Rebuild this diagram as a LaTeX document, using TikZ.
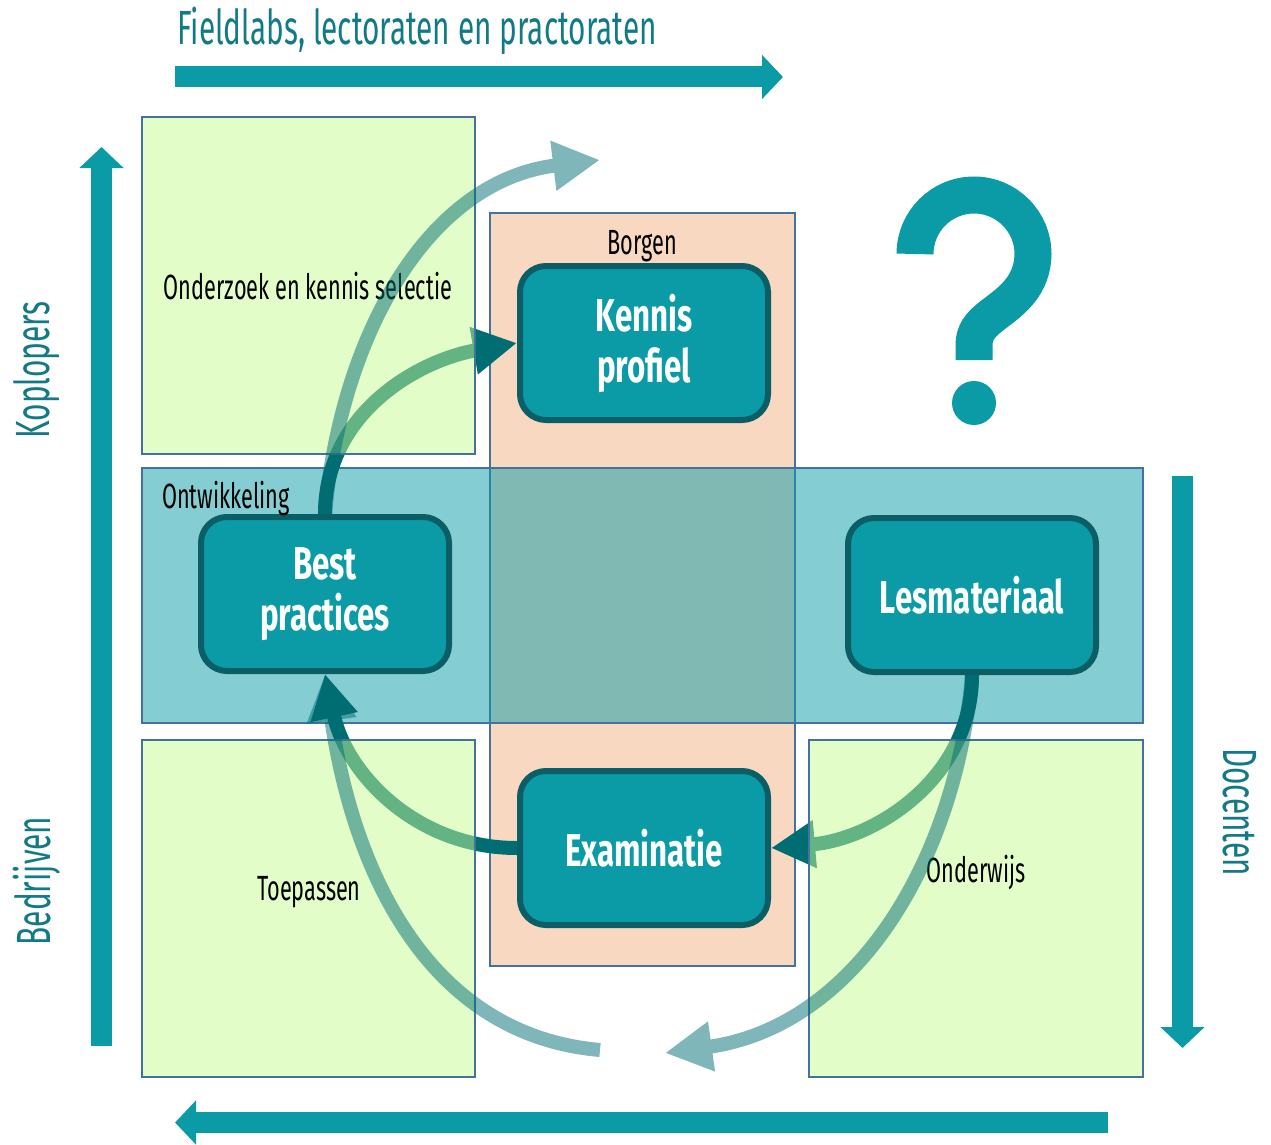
\documentclass[tikz,border=0pt]{standalone}
\usepackage{fontspec}
\setmainfont{Fira Sans}[FakeStretch=0.62]
\newfontfamily\blockfamily{Fira Sans}[FakeStretch=0.68]
\usetikzlibrary{arrows.meta}
\definecolor{cteal}{RGB}{10,155,167}
\definecolor{cflow}{RGB}{0,109,115}
\definecolor{cnodeline}{RGB}{12,94,102}
\definecolor{caxis}{RGB}{18,122,132}
\definecolor{cframe}{RGB}{68,114,160}
\definecolor{corange}{RGB}{248,216,192}
\definecolor{cgreen}{RGB}{200,252,148}
\newcommand{\axisfont}{\fontsize{48}{52}\selectfont}
\newcommand{\fieldfont}{\fontsize{35}{38}\selectfont}
\newcommand{\nodefont}{\blockfamily\fontsize{46}{51}\selectfont\bfseries}
\pgfdeclarelayer{back}
\pgfdeclarelayer{darkarrows}
\pgfdeclarelayer{boxes}
\pgfdeclarelayer{lightarrows}
\pgfsetlayers{back,darkarrows,boxes,lightarrows,main}

\begin{document}
\begin{tikzpicture}[x=1pt,y=-1pt
  ,>={Triangle[length=44pt,width=45pt]}
  ,line cap=butt]
  \tikzstyle{block}
  =[draw=cnodeline,line width=6pt,fill=cteal,rounded corners=26pt
  ,minimum width=248pt,minimum height=154pt
  ,text=white,align=center,font=\nodefont]
  \tikzstyle{field}=[draw=cframe,line width=2pt]
  \tikzstyle{darkflow}=[draw=cflow,line width=14pt,->]
  \tikzstyle{paleflow}=[draw=cflow,line width=14pt
  ,-{Triangle[length=47pt,width=47pt]}]
  \tikzstyle{axis}=[draw=cteal,line width=21pt
  ,-{Triangle[length=21pt,width=43pt]}]
  \tikzstyle{axislabel}=[text=caxis,font=\axisfont,inner sep=0pt]
  \tikzstyle{fieldlabel}=[font=\fieldfont,inner sep=0pt]

  \useasboundingbox (0,0) rectangle (1271,1145);

  % the four building blocks
  \node[block] (kp) at (644,343) {Kennis\\profiel};
  \node[block] (bp) at (325,594) {Best\\practices};
  \node[block] (lm) at (972,595) {Lesmateriaal};
  \node[block] (ex) at (644,848) {Examinatie};

  \coordinate (up)   at (600,160);
  \coordinate (down) at (665,1053);
  \coordinate (back) at (600,1050);

  \begin{pgfonlayer}{back}
    \draw[field,fill=corange] (490,213) rectangle (795,966);
    \draw[field,fill=cteal,fill opacity=.5] (142,468) rectangle (1143,723);
  \end{pgfonlayer}

  \begin{pgfonlayer}{darkarrows}
    \path
    (bp.north) edge[darkflow,out=90,in=190]  (kp.west)
    (lm.south) edge[darkflow,out=-90,in=5]   (ex.east)
    (ex.west)  edge[darkflow,out=180,in=-78] (bp.south)
    ;
  \end{pgfonlayer}

  \begin{pgfonlayer}{boxes}
    \draw[field,fill=cgreen,fill opacity=.5] (142,117) rectangle (475,454);
    \draw[field,fill=cgreen,fill opacity=.5] (142,740) rectangle (475,1077);
    \draw[field,fill=cgreen,fill opacity=.5] (809,740) rectangle (1143,1077);
    \node[fieldlabel,anchor=base] (ozk) at (308,299) {Onderzoek en kennis selectie};
    \node[fieldlabel,anchor=base] (tp)  at (309,900) {Toepassen};
    \node[fieldlabel,anchor=base] (ow)  at (976,882) {Onderwijs};
  \end{pgfonlayer}

  \begin{pgfonlayer}{lightarrows}
    \begin{scope}[transparency group,opacity=.5]
      \path
      (bp.north) edge[paleflow,out=85,in=187]  (up)
      (lm.south) edge[paleflow,out=-95,in=8]   (down)
      (back)     edge[paleflow,out=175,in=-82] (bp.south)
      ;
    \end{scope}
  \end{pgfonlayer}

  \node[fieldlabel,anchor=base] (bg) at (642,254) {Borgen};
  \node[fieldlabel,anchor=base west] (ow2) at (162,508) {Ontwikkeling};

  % axes round the field
  \draw[axis] (175,77) -- (783,77);
  \draw[axis] (101.5,1046) -- (101.5,147);
  \draw[axis] (1182.5,476) -- (1182.5,1048);
  \draw[axis] (1108,1122.5) -- (175,1122.5);

  \node[axislabel,anchor=base west] (fl) at (177,45)
  {Fieldlabs, lectoraten en practoraten};
  \node[axislabel,rotate=90]  (kl) at (37,370) {Koplopers};
  \node[axislabel,rotate=90]  (bd) at (37,881) {Bedrijven};
  \node[axislabel,rotate=-90] (dc) at (1240,812) {Docenten};

  % question mark
  \draw[cteal,line width=37pt] (915,254)
  arc[start angle=180,end angle=400,radius=59]
  .. controls (1000,315) and (974,320) .. (974,345) -- (974,360);
  \fill[cteal] (974,403) circle[radius=22];
\end{tikzpicture}
\end{document}
